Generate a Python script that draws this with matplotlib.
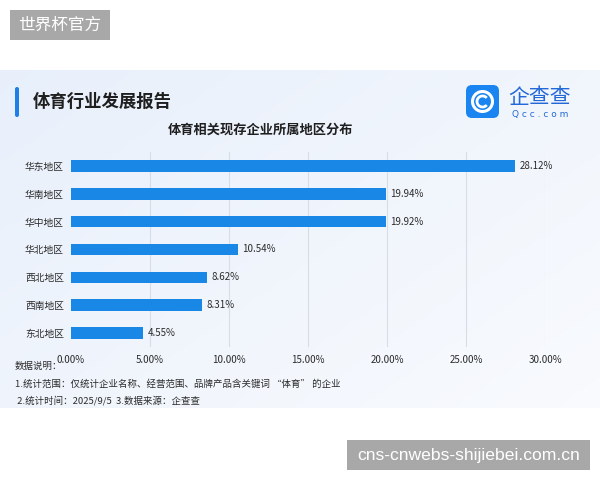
import numpy as np
import matplotlib
matplotlib.use('Agg')
import matplotlib.pyplot as plt
from matplotlib.patches import Rectangle, FancyBboxPatch, Circle, Arc

plt.rcParams['font.family'] = ['Noto Sans CJK SC', 'DejaVu Sans']

regions = ['华东地区', '华南地区', '华中地区', '华北地区', '西北地区', '西南地区', '东北地区']
shares = [28.12, 19.94, 19.92, 10.54, 8.62, 8.31, 4.55]
xticks = [0, 5, 10, 15, 20, 25, 30]

report_title = '体育行业发展报告'
chart_title = '体育相关现存企业所属地区分布'
notes = ['数据说明：',
         '1.统计范围：仅统计企业名称、经营范围、品牌产品含关键词 “体育” 的企业',
         ' 2.统计时间：2025/9/5  3.数据来源：企查查']

bar_color = '#1887e5'
text_color = '#2b2b2b'

fig = plt.figure(figsize=(6, 4.8), dpi=100)

# background layer in pixel coordinates
bg = fig.add_axes([0, 0, 1, 1])
bg.set_xlim(0, 600)
bg.set_ylim(480, 0)
bg.axis('off')

# light blue panel with a soft gradient
gx = np.linspace(0, 1, 200)
gy = np.linspace(0, 1, 100)
GX, GY = np.meshgrid(gx, gy)
t = np.clip(0.55 * GX + 0.45 * GY, 0, 1)
c0 = np.array([0.91, 0.94, 0.985])
c1 = np.array([0.975, 0.982, 0.995])
grad = c0[None, None, :] * (1 - t[..., None]) + c1[None, None, :] * t[..., None]
bg.imshow(grad, extent=[0, 600, 408, 70], aspect='auto', zorder=0)

# header
bg.add_patch(FancyBboxPatch((15, 87), 4, 30, boxstyle='round,pad=0,rounding_size=2',
                            fc='#1e7fe6', ec='none', zorder=2))
bg.text(33, 102, report_title, fontsize=12.5, fontweight='bold', color='#1f1f1f',
        va='center', ha='left', zorder=3)
bg.text(261, 130, chart_title, fontsize=9.5, fontweight='bold', color='#1f1f1f',
        va='center', ha='center', zorder=3)

# logo
bg.add_patch(FancyBboxPatch((466, 85), 33, 33, boxstyle='round,pad=0,rounding_size=6',
                            fc='#1a84f0', ec='none', zorder=2))
bg.add_patch(Circle((482.5, 101.5), 10, fc='none', ec='white', lw=2.2, zorder=3))
bg.add_patch(Arc((482.5, 101.5), 11, 11, theta1=40, theta2=320, ec='white', lw=2, zorder=3))
bg.text(540, 97, '企查查', fontsize=15, color='#2368d8', va='center', ha='center', zorder=3)
bg.text(540, 114, 'Q c c . c o m', fontsize=6.5, color='#2368d8', va='center', ha='center',
        family='DejaVu Sans', zorder=3)

# notes
for i, line in enumerate(notes):
    bg.text(15, 366 + i * 17.5, line, fontsize=6.8, color=text_color, va='center', ha='left', zorder=3)

# watermarks
bg.add_patch(Rectangle((10, 10), 100, 30, fc='#a8a8a8', ec='none', zorder=4))
bg.text(60, 25.5, '世界杯官方', fontsize=12, color='white', va='center', ha='center', zorder=5)
bg.add_patch(Rectangle((347, 440), 243, 30, fc='#a8a8a8', ec='none', zorder=4))
bg.text(468.5, 455.5, 'cns-cnwebs-shijiebei.com.cn', fontsize=12.6, color='white',
        va='center', ha='center', family='Liberation Sans', zorder=5)

# main chart
ax = fig.add_axes([71 / 600, 1 - 347 / 480, (545 - 71) / 600, (347 - 152) / 480])
ax.set_facecolor('none')
y = np.arange(len(regions))
ax.barh(y, shares, height=0.42, color=bar_color, zorder=3)
for yi, v in zip(y, shares):
    ax.text(v + 0.28, yi, f'{v:.2f}%', va='center', ha='left', fontsize=7,
            color=text_color, zorder=4, clip_on=False)

for xt in xticks[1:]:
    ax.axvline(xt, color='#d9dee6', lw=0.8, zorder=1)

ax.set_xlim(0, 30)
ax.set_ylim(len(regions) - 0.5, -0.5)
ax.set_yticks(y)
ax.set_yticklabels(regions, fontsize=7, color=text_color)
ax.set_xticks(xticks)
ax.set_xticklabels([f'{v:.2f}%' for v in xticks], fontsize=7, color=text_color)
ax.tick_params(axis='both', length=0)
ax.tick_params(axis='y', pad=5)
ax.tick_params(axis='x', pad=6)
for s in ax.spines.values():
    s.set_visible(False)

fig.savefig('out.png', dpi=100)
